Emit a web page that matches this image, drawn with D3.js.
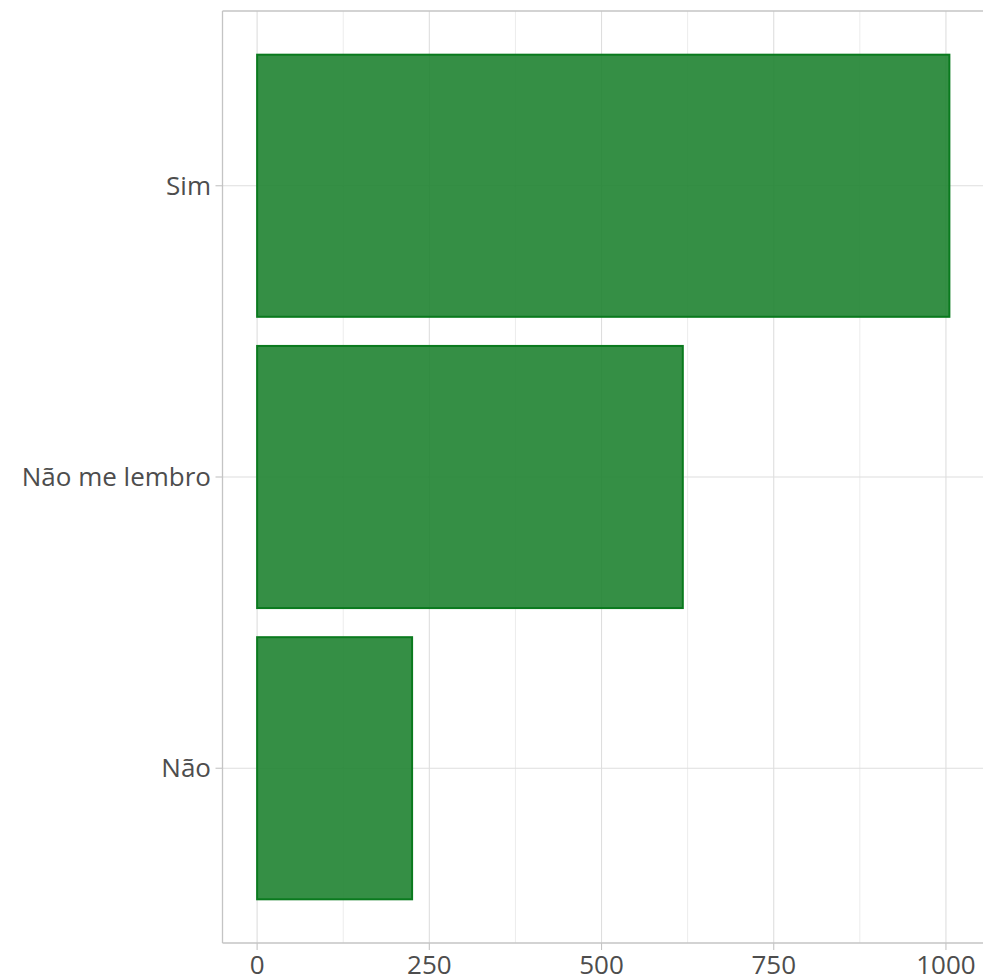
<!DOCTYPE html>
<html><head><meta charset="utf-8">
<script src="https://cdn.jsdelivr.net/npm/d3@7"></script>
<style>body{margin:0;background:#fff}</style>
</head><body>
<svg id="c" width="983" height="975"></svg>
<script>
const categories = ["Sim", "Não me lembro", "Não"];
const values = [1005, 618, 225];
const xTicks = [0, 250, 500, 750, 1000];
const xMinor = [125, 375, 625, 875];

const svg = d3.select("#c");
const L = 222.5, R = 984, T = 11, B = 943;
const x = d3.scaleLinear().domain([-50.25, 1055.25]).range([L, R]);
const y = d3.scaleLinear().domain([0.4, 3.6]).range([T, B]);
const bw = 0.9;
const font = "Open Sans, sans-serif";

const g = svg.append("g");
g.selectAll(".mn").data(xMinor).join("line")
  .attr("x1", d => x(d)).attr("x2", d => x(d)).attr("y1", T).attr("y2", B)
  .attr("stroke", "#ececec").attr("stroke-width", 1);
g.selectAll(".mj").data(xTicks).join("line")
  .attr("x1", d => x(d)).attr("x2", d => x(d)).attr("y1", T).attr("y2", B)
  .attr("stroke", "#dedede").attr("stroke-width", 1.1);
g.selectAll(".hy").data(categories).join("line")
  .attr("x1", L).attr("x2", R).attr("y1", (d, i) => y(i + 1)).attr("y2", (d, i) => y(i + 1))
  .attr("stroke", "#dedede").attr("stroke-width", 1.1);

g.selectAll(".bar").data(values).join("rect")
  .attr("x", x(0)).attr("width", d => x(d) - x(0))
  .attr("y", (d, i) => y(i + 1 - bw / 2)).attr("height", y(bw) - y(0))
  .attr("fill", "#1f8331").attr("fill-opacity", 0.9)
  .attr("stroke", "#0a7a1e").attr("stroke-width", 2);

svg.append("line").attr("x1", L).attr("x2", L).attr("y1", T).attr("y2", B).attr("stroke", "#c4c4c4").attr("stroke-width", 1.3);
svg.append("line").attr("x1", L).attr("x2", R).attr("y1", T).attr("y2", T).attr("stroke", "#c4c4c4").attr("stroke-width", 1.3);
svg.append("line").attr("x1", L).attr("x2", R).attr("y1", B).attr("y2", B).attr("stroke", "#c4c4c4").attr("stroke-width", 1.3);

svg.selectAll(".xt").data(xTicks).join("line")
  .attr("x1", d => x(d)).attr("x2", d => x(d)).attr("y1", B).attr("y2", B + 7)
  .attr("stroke", "#c4c4c4").attr("stroke-width", 1.1);
svg.selectAll(".xl").data(xTicks).join("text")
  .attr("x", d => x(d)).attr("y", 974).attr("text-anchor", "middle")
  .attr("font-family", font).attr("font-size", 26).attr("fill", "#4d4d4d")
  .text(d => d);
svg.selectAll(".yt").data(categories).join("line")
  .attr("x1", L - 7).attr("x2", L).attr("y1", (d, i) => y(i + 1)).attr("y2", (d, i) => y(i + 1))
  .attr("stroke", "#c4c4c4").attr("stroke-width", 1.1);
svg.selectAll(".yl").data(categories).join("text")
  .attr("x", 211).attr("y", (d, i) => y(i + 1)).attr("dy", "0.35em").attr("text-anchor", "end")
  .attr("font-family", font).attr("font-size", 26).attr("fill", "#4d4d4d")
  .text(d => d);
</script>
</body></html>
